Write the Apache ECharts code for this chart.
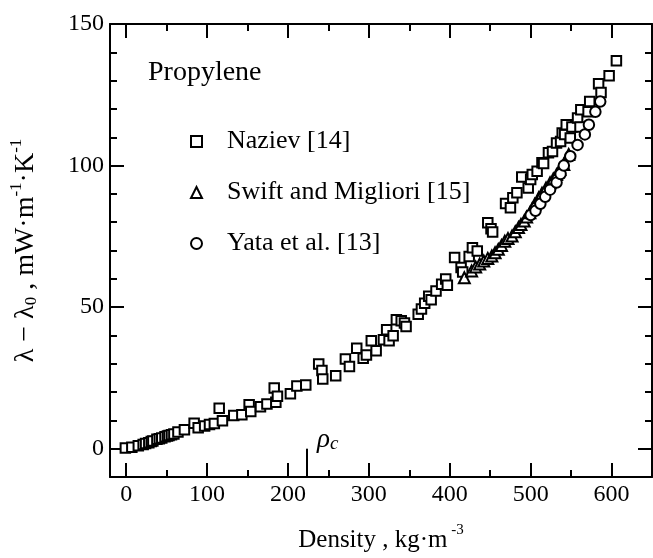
<!DOCTYPE html>
<html>
<head>
<meta charset="utf-8">
<script src="https://cdn.jsdelivr.net/npm/echarts@6/dist/echarts.min.js"></script>
<style>
  html, body { margin: 0; padding: 0; background: #fff; }
  #chart { width: 653px; height: 558px; }
</style>
</head>
<body>
<div id="chart"></div>
<script>
// Naziev [14] : [density, lambda - lambda0]
const naziev = [
  [-1, 0.2], [7, 0.5], [15, 1.0], [21, 1.5], [24, 1.8], [28, 2.1], [31, 2.5], [33, 2.7],
  [38, 3.3], [41, 3.5], [44, 3.8], [48, 4.2], [51, 4.5], [53, 4.7], [56, 4.9], [59, 5.2],
  [64, 5.9], [72, 6.7], [84, 9.0], [89, 7.4], [97, 8.0], [103, 8.5], [109, 8.9], [115, 14.3],
  [119, 9.9], [133, 11.7], [143, 12.0], [152, 15.5], [154, 13.1], [166, 14.8], [174, 15.8],
  [183, 21.4], [185, 16.4], [187, 18.5], [203, 19.4], [211, 22.1], [222, 22.5], [238, 29.9],
  [242, 27.6], [243, 24.6], [259, 25.8], [271, 31.7], [276, 29.0], [285, 35.5], [293, 31.9],
  [297, 33.1], [303, 38.1], [309, 34.6], [318, 38.5], [322, 42.0], [325, 38.1], [330, 39.9],
  [334, 45.5], [340, 45.2], [344, 44.4], [346, 43.2], [361, 47.5], [365, 49.3], [369, 51.4],
  [374, 53.8], [377, 52.6], [383, 55.7], [390, 58.1], [395, 59.9], [397, 57.7], [406, 67.5],
  [414, 64.0], [416, 62.4], [424, 67.9], [428, 71.0], [434, 69.8], [447, 79.8], [451, 77.7],
  [453, 76.5], [469, 86.6], [475, 85.1], [478, 88.6], [483, 90.4], [489, 96.0], [497, 92.1],
  [500, 95.1], [502, 96.8], [508, 98.0], [514, 101.0], [516, 100.7], [522, 104.5], [527, 105.0],
  [532, 108.0], [537, 108.5], [539, 111.5], [542, 111.0], [544, 114.4], [549, 109.7],
  [551, 113.6], [558, 116.8], [561, 113.6], [562, 119.7], [571, 119.0], [573, 122.6],
  [584, 128.9], [587, 125.8], [597, 131.7], [606, 137.0]
];

// Swift and Migliori [15]
const swift = [
  [418, 60.4], [427, 62.8], [432, 64.2], [437, 65.2], [442, 66.3], [447, 67.2], [452, 68.1],
  [456, 69.2], [460, 70.4], [464, 71.8], [468, 73.3], [472, 74.2], [477, 75.1], [481, 76.6],
  [485, 78.1], [488, 79.2], [492, 80.4], [495, 81.8], [499, 83.3], [502, 84.8], [505, 86.3],
  [510, 88.6], [514, 90.2], [519, 92.1], [524, 93.9], [528, 95.3], [532, 96.8], [536, 98.6],
  [541, 100.4], [547, 103.9]
];

// Yata et al. [13]
const yata = [
  [500, 82.5], [506, 84.0], [512, 86.5], [518, 89.0], [524, 91.5], [532, 94.0], [537, 97.0],
  [541, 100.0], [549, 103.3], [558, 107.3], [567, 111.0], [572, 114.4], [580, 119.0], [586, 122.6]
];

// critical density marker
const rhoC = 223.5;
const rhoCLine = [[rhoC, -10], [rhoC, 0]];

const xRange = [-20, 650];
const yRange = [-10, 150];

const FONT = '"Liberation Serif", "Times New Roman", serif';

const chart = echarts.init(document.getElementById('chart'));

// scatter defaults to opacity 0.8, keep marks solid black like the print
const pointStyle = { color: '#fff', borderColor: '#000', borderWidth: 2, opacity: 1 };

const frameAxis = {
  axisLine: { show: true, onZero: false, lineStyle: { color: '#000', width: 2 } },
  axisTick: { show: true, inside: true, length: 14, lineStyle: { color: '#000', width: 2 } },
  splitLine: { show: false }
};

const option = {
  backgroundColor: '#fff',
  animation: false,
  title: {
    text: 'Propylene',
    left: 148,
    top: 59,
    padding: 0,
    textStyle: { fontFamily: FONT, fontSize: 28, fontWeight: 'normal', color: '#000' }
  },
  legend: {
    orient: 'vertical',
    left: 190,
    top: 128,
    itemWidth: 11,
    itemHeight: 11,
    itemGap: 24,
    padding: 0,
    itemStyle: { borderWidth: 2, opacity: 1 },
    textStyle: { fontFamily: FONT, fontSize: 26, color: '#000', lineHeight: 27, padding: [0, 0, 0, 20] },
    data: ['Naziev [14]', 'Swift and Migliori [15]', 'Yata et al. [13]']
  },
  grid: { left: 107, right: 1, top: 24, bottom: 79 },
  xAxis: [
    Object.assign({
      type: 'value',
      min: xRange[0],
      max: xRange[1],
      splitNumber: 7,
      name: '{n|Density , kg·m}{sup| -3}',
      nameLocation: 'middle',
      nameGap: 46,
      nameTextStyle: {
        rich: {
          n: { fontFamily: FONT, fontSize: 25, color: '#000', lineHeight: 30, verticalAlign: 'bottom' },
          sup: { fontFamily: FONT, fontSize: 15, color: '#000', verticalAlign: 'top', padding: [0, 0, 10, 0] }
        }
      },
      axisLabel: {
        fontFamily: FONT, fontSize: 24, color: '#000', margin: 6,
        showMinLabel: false, showMaxLabel: false
      },
      minorTick: { show: true, splitNumber: 2, length: 7, lineStyle: { color: '#000', width: 2 } }
    }, frameAxis),
    Object.assign({
      type: 'value',
      position: 'top',
      min: xRange[0],
      max: xRange[1],
      splitNumber: 7,
      axisLabel: { show: false },
      minorTick: { show: true, splitNumber: 2, length: 7, lineStyle: { color: '#000', width: 2 } }
    }, frameAxis)
  ],
  yAxis: [
    Object.assign({
      type: 'value',
      min: yRange[0],
      max: yRange[1],
      splitNumber: 3,
      name: '{n|λ − λ}{sub|0}{n| , mW·m}{sup|-1}{n|·K}{sup|-1}',
      nameLocation: 'middle',
      nameGap: 70,
      nameTextStyle: {
        rich: {
          n: { fontFamily: FONT, fontSize: 28, color: '#000', lineHeight: 32, verticalAlign: 'bottom' },
          sub: { fontFamily: FONT, fontSize: 17, color: '#000', verticalAlign: 'bottom' },
          sup: { fontFamily: FONT, fontSize: 17, color: '#000', verticalAlign: 'top', padding: [0, 0, 11, 0] }
        }
      },
      axisLabel: {
        fontFamily: FONT, fontSize: 24, color: '#000', margin: 6,
        showMinLabel: false
      },
      minorTick: { show: true, splitNumber: 5, length: 7, lineStyle: { color: '#000', width: 2 } }
    }, frameAxis),
    Object.assign({
      type: 'value',
      position: 'right',
      min: yRange[0],
      max: yRange[1],
      splitNumber: 3,
      axisLabel: { show: false },
      minorTick: { show: true, splitNumber: 5, length: 7, lineStyle: { color: '#000', width: 2 } }
    }, frameAxis)
  ],
  series: [
    {
      name: 'Naziev [14]',
      type: 'scatter',
      symbol: 'rect',
      symbolSize: 9.5,
      itemStyle: pointStyle,
      data: naziev,
      z: 3
    },
    {
      name: 'Swift and Migliori [15]',
      type: 'scatter',
      symbol: 'triangle',
      symbolSize: 11,
      itemStyle: pointStyle,
      data: swift,
      z: 4
    },
    {
      name: 'Yata et al. [13]',
      type: 'scatter',
      symbol: 'circle',
      symbolSize: 10.5,
      itemStyle: pointStyle,
      data: yata,
      z: 5
    },
    {
      type: 'line',
      data: rhoCLine,
      symbol: 'none',
      lineStyle: { color: '#000', width: 2 },
      silent: true,
      endLabel: {
        show: true,
        distance: 10,
        offset: [0, -10],
        formatter: '{r|ρ}{c|c}',
        rich: {
          r: { fontFamily: FONT, fontStyle: 'italic', fontSize: 27, color: '#000', lineHeight: 30, verticalAlign: 'bottom' },
          c: { fontFamily: FONT, fontStyle: 'italic', fontSize: 19, color: '#000', verticalAlign: 'bottom' }
        }
      }
    }
  ]
};

chart.setOption(option);
</script>
</body>
</html>
